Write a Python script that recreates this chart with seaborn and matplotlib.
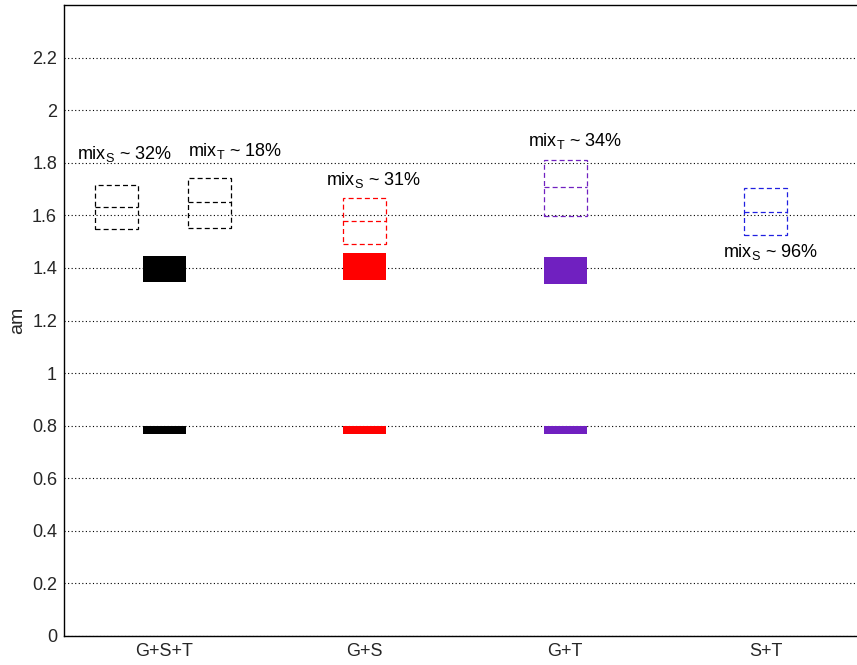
import numpy as np
import matplotlib
matplotlib.use('Agg')
import matplotlib.pyplot as plt
import seaborn as sns

sns.set_theme(style="white")
plt.rcParams['font.family'] = ['Liberation Sans', 'DejaVu Sans']
plt.rcParams['mathtext.default'] = 'regular'

categories = ['G+S+T', 'G+S', 'G+T', 'S+T']
colors = ['#000000', '#ff0000', '#7020c0', '#2020e0']

# filled boxes (low, high) per category; S+T has none
upper_lo = [1.347, 1.355, 1.340, np.nan]
upper_hi = [1.445, 1.458, 1.442, np.nan]
lower_lo = [0.768, 0.768, 0.768, np.nan]
lower_hi = [0.799, 0.799, 0.799, np.nan]

# dashed mix boxes: category index, x shift, low, mid, high
mix_cat = [0, 0, 1, 2, 3]
mix_shift = [-0.237, 0.224, 0.0, 0.0, 0.0]
mix_lo = [1.549, 1.553, 1.492, 1.598, 1.526]
mix_mid = [1.633, 1.652, 1.579, 1.709, 1.614]
mix_hi = [1.716, 1.743, 1.667, 1.812, 1.705]

mix_text = [r'mix$_{S}$ ~ 32%', r'mix$_{T}$ ~ 18%', r'mix$_{S}$ ~ 31%',
            r'mix$_{T}$ ~ 34%', r'mix$_{S}$ ~ 96%']
text_x = [0.565, 1.118, 1.807, 2.813, 3.787]
text_y = [1.814, 1.824, 1.716, 1.862, 1.441]

yticks = np.round(np.arange(0, 2.21, 0.2), 1)

fig = plt.figure(figsize=(8.57, 6.65), dpi=100)
ax = fig.add_axes([64 / 857, 1 - 636 / 665, 1 - 64 / 857, (636 - 5) / 665])

w = 0.215
pos = np.arange(1, len(categories) + 1)

for yv in yticks:
    ax.axhline(yv, color='black', lw=0.8, ls=(0, (1, 2.2)), zorder=0)

up_h = np.array(upper_hi) - np.array(upper_lo)
lo_h = np.array(lower_hi) - np.array(lower_lo)
ax.bar(pos, up_h, bottom=upper_lo, width=w, color=colors, linewidth=0, zorder=2)
ax.bar(pos, lo_h, bottom=lower_lo, width=w, color=colors, linewidth=0, zorder=2)

for c, s, lo, mid, hi in zip(mix_cat, mix_shift, mix_lo, mix_mid, mix_hi):
    xc = pos[c] + s
    ax.bar(xc, hi - lo, bottom=lo, width=w, fill=False, edgecolor=colors[c],
           linestyle=(0, (4, 2.5)), linewidth=0.9, zorder=3)
    ax.hlines(mid, xc - w / 2, xc + w / 2, colors=colors[c],
              linestyles=[(0, (4, 2.5))], linewidth=0.9, zorder=3)

for t, tx, ty in zip(mix_text, text_x, text_y):
    ax.text(tx, ty, t, ha='left', va='baseline', fontsize=13, color='black')

ax.set_xlim(0.5, 0.5 + 793 / 200.5)
ax.set_ylim(0, 2.4)
ax.set_xticks(pos)
ax.set_xticklabels(categories, fontsize=13)
ax.set_yticks(yticks)
ax.set_yticklabels([f'{v:g}' for v in yticks], fontsize=13)
ax.tick_params(axis='both', length=0, pad=5)
ax.set_ylabel('am', fontsize=14, labelpad=4)

for side in ['left', 'top', 'bottom']:
    ax.spines[side].set_visible(True)
    ax.spines[side].set_color('black')
    ax.spines[side].set_linewidth(1.0)
ax.spines['right'].set_visible(False)

fig.savefig('out.png', dpi=100)
